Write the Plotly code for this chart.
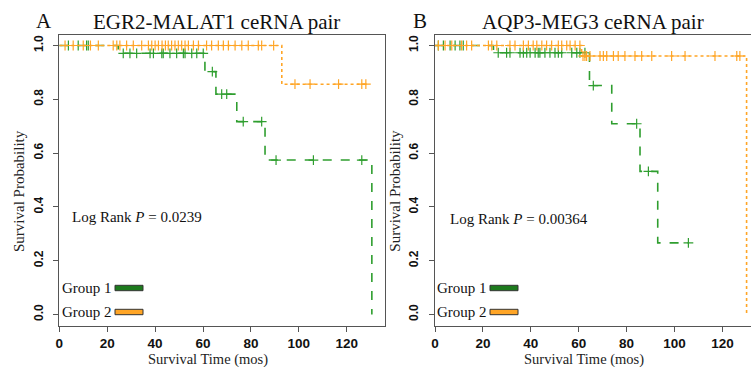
import plotly.graph_objects as go

# ---------------- data ----------------
x_ticks = [0, 20, 40, 60, 80, 100, 120]
y_ticks = [0.0, 0.2, 0.4, 0.6, 0.8, 1.0]
y_tick_labels = ["0.0", "0.2", "0.4", "0.6", "0.8", "1.0"]

titles = ["EGR2-MALAT1 ceRNA pair", "AQP3-MEG3 ceRNA pair"]
panel_letters = ["A", "B"]
pvalues = ["0.0239", "0.00364"]
group_names = ["Group 1", "Group 2"]

# Panel A, Group 1 (green)
a_g1_event_t = [24.6, 60.8, 65.4, 74.1, 85.9, 130.5]
a_g1_event_s = [0.971, 0.903, 0.819, 0.717, 0.574, 0.0]
a_g1_end = 130.5
a_g1_censor = [3.8, 7.9, 11.4, 12.1, 26.7, 29.5, 32.3, 37.9, 39.3, 42.8, 43.4,
               46.2, 49.0, 51.8, 52.5, 55.3, 57.4, 60.1, 63.9, 67.8, 69.9,
               76.8, 84.5, 90.5, 106.1, 126.3]
# Panel A, Group 2 (orange)
a_g2_event_t = [92.9]
a_g2_event_s = [0.856]
a_g2_end = 128.6
a_g2_censor = [2.4, 5.8, 10.0, 13.0, 16.3, 22.5, 24.0, 25.3, 28.1, 30.9, 34.4,
               37.2, 38.6, 40.0, 41.4, 42.9, 44.3, 45.5, 46.9, 48.3, 49.7, 51.1,
               52.5, 53.9, 56.0, 58.1, 61.5, 63.6, 66.4, 68.5, 70.6, 73.4, 76.2,
               78.9, 83.1, 84.5, 89.5, 98.4, 104.7, 116.6, 126.3, 128.0]
# Panel B, Group 1 (green)
b_g1_event_t = [24.4, 64.5, 73.8, 85.6, 93.0]
b_g1_event_s = [0.973, 0.851, 0.709, 0.532, 0.266]
b_g1_end = 106.0
b_g1_censor = [1.4, 3.5, 6.3, 8.4, 10.4, 11.8, 26.4, 29.9, 31.3, 35.5, 36.9,
               38.3, 39.7, 41.8, 43.1, 43.8, 45.9, 48.0, 50.1, 51.5, 52.9,
               57.1, 59.2, 60.5, 62.6, 66.1, 84.2, 89.1, 105.8]
# Panel B, Group 2 (orange)
b_g2_event_t = [61.2, 130.1]
b_g2_event_s = [0.961, 0.0]
b_g2_end = 130.1
b_g2_censor = [1.4, 4.2, 7.0, 11.1, 13.2, 15.3, 22.3, 23.7, 25.8, 31.3, 33.4,
               36.9, 39.0, 41.0, 42.5, 44.6, 46.6, 48.7, 51.5, 52.9, 55.0, 56.4,
               58.5, 60.5, 61.8, 62.6, 63.3, 64.7, 68.9, 70.3, 71.7, 74.5, 76.5,
               79.3, 83.5, 86.3, 90.5, 98.8, 104.4, 116.9, 126.0, 127.3]

GREEN = "#2f9e2f"
GREEN_BAR = "#1d7a1d"
ORANGE = "#ffa526"
AXIS = "#555555"

W, H = 751, 367


def px(x):
    return x / W


def py(y):
    return 1 - y / H


def surv_at(t, ev_t, ev_s):
    s = 1.0
    for et, es in zip(ev_t, ev_s):
        if et <= t:
            s = es
    return s


def km_line(ev_t, ev_s, end):
    xs, ys = [0.0], [1.0]
    for et, es in zip(ev_t, ev_s):
        xs.append(et)
        ys.append(es)
    if end > xs[-1]:
        xs.append(end)
        ys.append(ys[-1])
    return xs, ys


fig = go.Figure()

panels = [
    ("x", "y", [(a_g1_event_t, a_g1_event_s, a_g1_end, a_g1_censor, GREEN, "dash"),
                (a_g2_event_t, a_g2_event_s, a_g2_end, a_g2_censor, ORANGE, "dot")]),
    ("x2", "y2", [(b_g1_event_t, b_g1_event_s, b_g1_end, b_g1_censor, GREEN, "dash"),
                  (b_g2_event_t, b_g2_event_s, b_g2_end, b_g2_censor, ORANGE, "dot")]),
]

for xa, ya, curves in panels:
    for ev_t, ev_s, end, cens, col, dash in curves:
        lx, ly = km_line(ev_t, ev_s, end)
        fig.add_trace(go.Scatter(x=lx, y=ly, mode="lines", line_shape="hv",
                                 line=dict(color=col, width=1.6, dash=dash),
                                 xaxis=xa, yaxis=ya, showlegend=False, hoverinfo="skip"))
        fig.add_trace(go.Scatter(x=cens, y=[surv_at(t, ev_t, ev_s) for t in cens],
                                 mode="markers",
                                 marker=dict(symbol="cross-thin", size=7, color=col,
                                             line=dict(color=col, width=1.2)),
                                 xaxis=xa, yaxis=ya, showlegend=False, hoverinfo="skip"))

# geometry (pixels)
y_top, y_bot = 35, 326
x0A, xrA = 59.3, 385
x0B = 435
ppu = 2.395
ydom = [py(y_bot), py(y_top)]
yr = [-0.043, 1.039]

tickfont_x = dict(family="Liberation Sans", size=13.5, color="#111111", weight="bold")
tickfont_y = dict(family="Liberation Sans", size=12, color="#111111", weight="bold")

common_x = dict(showgrid=False, zeroline=False, showline=True, linecolor=AXIS, linewidth=1,
                ticks="outside", ticklen=5, tickcolor=AXIS, tickvals=x_ticks,
                tickfont=tickfont_x, ticklabelstandoff=0, automargin=False)
common_y = dict(showgrid=False, zeroline=False, showline=True, linecolor=AXIS, linewidth=1,
                ticks="outside", ticklen=5, tickcolor=AXIS, tickvals=y_ticks,
                ticktext=y_tick_labels, tickangle=-90, tickfont=tickfont_y,
                ticklabelstandoff=6, range=yr, domain=ydom, automargin=False)

fig.update_layout(
    width=W, height=H, margin=dict(l=0, r=0, t=0, b=0, autoexpand=False),
    paper_bgcolor="white", plot_bgcolor="white", showlegend=False,
    xaxis=dict(domain=[px(x0A), px(xrA)], range=[0, (xrA - x0A) / ppu], mirror=True,
               anchor="y", **common_x),
    yaxis=dict(anchor="x", mirror=True, **common_y),
    xaxis2=dict(domain=[px(x0B), 1.0], range=[0, (W - x0B) / ppu], mirror=True,
                anchor="y2", **common_x),
    yaxis2=dict(anchor="x2", mirror=False, **common_y),
)

serif = "Liberation Serif"
ann = []
shapes = []
offsets = [0, x0B - x0A]


def text(x, y, s, size, xanchor="center", angle=0, color="#111"):
    return dict(x=px(x), y=py(y), text=s, showarrow=False, xref="paper", yref="paper",
                xanchor=xanchor, yanchor="middle", textangle=angle,
                font=dict(family=serif, size=size, color=color))


for i in range(2):
    o = offsets[i]
    ann.append(text([44, 420][i], 21, panel_letters[i], 21))
    ann.append(text([217, 593][i], 22, titles[i], 21))
    ann.append(text(19 + o, 191, "Survival Probability", 15, angle=-90, color="#222"))
    ann.append(text(208 + o, 359.5, "Survival Time (mos)", 14.5, color="#222"))
    ann.append(text([70, 448][i], [217, 219][i], "Log Rank <i>P</i> = " + pvalues[i], 15,
                    xanchor="left"))
    for g, (gy, col) in enumerate([(288, GREEN_BAR), (312, ORANGE)]):
        ann.append(text([114, 489][i], gy, group_names[g], 15, xanchor="right"))
        bx = [115, 490][i]
        shapes.append(dict(type="rect", xref="paper", yref="paper",
                           x0=px(bx), x1=px(bx + 28), y0=py(gy - 2.7), y1=py(gy + 2.7),
                           fillcolor=col, line=dict(color="#333", width=1)))

fig.update_layout(annotations=ann, shapes=shapes)
fig.write_html("out.html", config={"displayModeBar": False},
               post_script="document.body.style.margin='0';document.body.style.padding='0';"
                           "document.body.style.overflow='hidden';")
